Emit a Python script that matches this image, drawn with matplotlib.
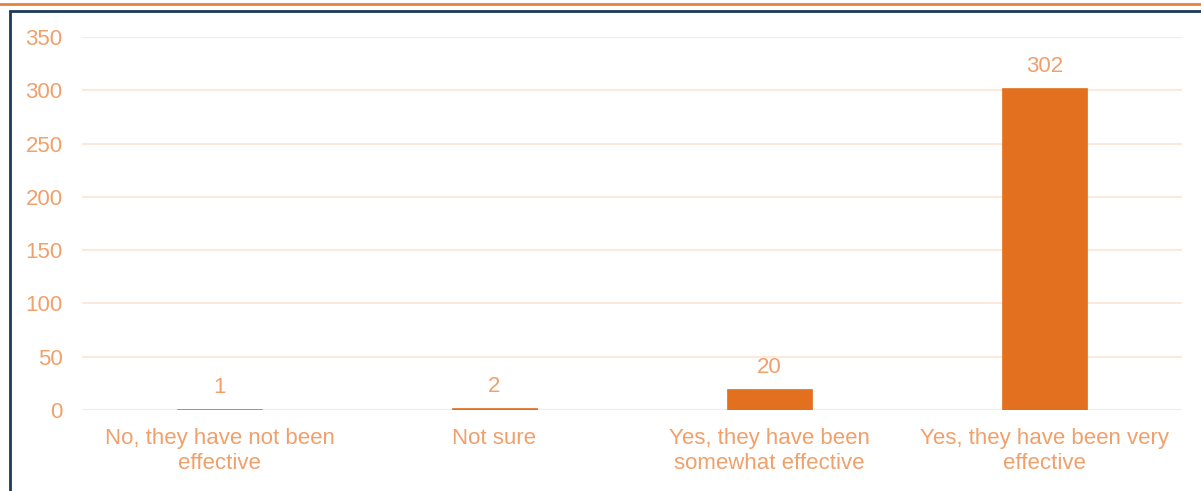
import matplotlib.pyplot as plt
from matplotlib.patches import Rectangle
from matplotlib.lines import Line2D

categories = ["No, they have not been\neffective", "Not sure",
              "Yes, they have been\nsomewhat effective",
              "Yes, they have been very\neffective"]
counts = [1, 2, 20, 302]
y_ticks = [0, 50, 100, 150, 200, 250, 300, 350]

BAR_COLOR = "#E2701F"
TEXT_COLOR = "#F0A06A"
GRID_COLOR = "#FDE8DC"
FRAME_COLOR = "#1B3A5C"

plt.rcParams["font.family"] = ["Liberation Sans", "DejaVu Sans"]

fig = plt.figure(figsize=(12.01, 4.91), dpi=100)
W, H = 1201, 491

# outer decorations: orange top rule and navy frame
fig.add_artist(Line2D([0, 1], [1 - 3.5 / H, 1 - 3.5 / H], color="#E8813A", lw=2,
                      transform=fig.transFigure))
fig.add_artist(Rectangle((9.5 / W, -0.1), 1.2, 1.1 - 10.5 / H, fill=False,
                         edgecolor=FRAME_COLOR, lw=2, transform=fig.transFigure))

ax = fig.add_axes([82 / W, (H - 410) / H, 1100 / W, (410 - 37) / H])
x = range(len(categories))
bars = ax.bar(x, counts, width=0.31, color=BAR_COLOR, edgecolor=BAR_COLOR,
              lw=0.5, zorder=3)
ax.set_xlim(-0.5, len(categories) - 0.5)
ax.set_ylim(0, 350)
ax.set_yticks(y_ticks)
ax.set_xticks(list(x))
ax.set_xticklabels(categories, fontsize=16, color=TEXT_COLOR, linespacing=1.27)
ax.tick_params(axis="y", labelsize=16, labelcolor=TEXT_COLOR, length=0, pad=14)
ax.tick_params(axis="x", length=0, pad=13)
ax.grid(axis="y", color=GRID_COLOR, lw=1.5, zorder=0)
for s in ax.spines.values():
    s.set_visible(False)

for b, v in zip(bars, counts):
    ax.annotate(str(v), (b.get_x() + b.get_width() / 2, v), xytext=(0, 8),
                textcoords="offset points", ha="center", va="bottom",
                fontsize=16, color=TEXT_COLOR)

fig.savefig("out.png", dpi=100)
